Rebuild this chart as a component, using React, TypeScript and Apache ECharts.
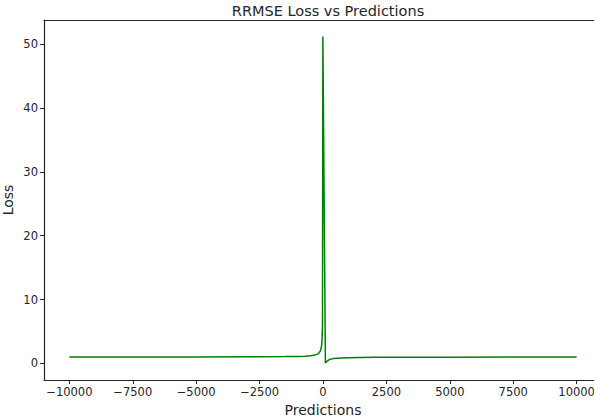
import React, { useEffect, useRef } from 'react'
import * as echarts from 'echarts'

// predictions (x) and loss (y)
const predictions = [
  -10000, -7500, -5000, -2500, -1500, -1000, -700, -500, -300, -200, -150, -100, -60, -40, -20, -5,
  95, 150, 250, 400, 700, 1000, 2000, 5000, 10000
]
const losses = [
  1.01, 1.01, 1.02, 1.04, 1.07, 1.1, 1.14, 1.2, 1.33, 1.5, 1.67, 2.0, 2.67, 3.5, 6.0, 51.2,
  0.05, 0.33, 0.6, 0.75, 0.86, 0.9, 0.95, 0.98, 0.99
]
const xTicks = [-10000, -7500, -5000, -2500, 0, 2500, 5000, 7500, 10000]
const yTicks = [0, 10, 20, 30, 40, 50]

const FONT = '"DejaVu Sans", sans-serif'
const INK = '#262626'

const fmt = (v: number) => (v < 0 ? '\u2212' + Math.abs(v) : String(v))

const App: React.FC = () => {
  const chartRef = useRef<HTMLDivElement>(null)

  useEffect(() => {
    if (!chartRef.current) return
    const chart = echarts.init(chartRef.current, undefined, { renderer: 'svg' })

    const option: echarts.EChartsOption = {
      animation: false,
      backgroundColor: '#fff',
      textStyle: { fontFamily: FONT },
      title: {
        text: 'RRMSE Loss vs Predictions',
        left: 323,
        top: -2,
        textAlign: 'center',
        textStyle: { fontFamily: FONT, fontSize: 14.5, fontWeight: 'normal', color: INK }
      },
      grid: { left: 44, top: 20, width: 558, height: 360, outerBoundsMode: 'none', containLabel: false } as any,
      xAxis: [
        {
          type: 'value',
          min: -11000,
          max: 11000,
          name: 'Predictions',
          nameLocation: 'middle',
          nameGap: 23,
          nameTextStyle: { fontFamily: FONT, fontSize: 14, color: INK },
          splitLine: { show: false },
          axisLine: { show: true, onZero: false, lineStyle: { color: INK, width: 1.2 } },
          axisTick: { show: true, length: 4, customValues: xTicks, lineStyle: { color: INK } },
          axisLabel: {
            customValues: xTicks,
            formatter: (v: number) => fmt(v),
            fontFamily: FONT,
            fontSize: 11.5,
            color: INK,
            margin: 6
          }
        },
        {
          type: 'value',
          position: 'top',
          min: -11000,
          max: 11000,
          splitLine: { show: false },
          axisLine: { show: true, onZero: false, lineStyle: { color: INK, width: 1.2 } },
          axisTick: { show: false },
          axisLabel: { show: false }
        }
      ],
      yAxis: {
        type: 'value',
        min: -2.6,
        max: 53.8,
        name: 'Loss',
        nameLocation: 'middle',
        nameGap: 29,
        nameMoveOverlap: false,
        nameTextStyle: { fontFamily: FONT, fontSize: 14, lineHeight: 14, color: INK },
        splitLine: { show: false },
        axisLine: { show: true, onZero: false, lineStyle: { color: INK, width: 1.2 } },
        axisTick: { show: true, length: 4, customValues: yTicks, lineStyle: { color: INK } },
        axisLabel: {
          customValues: yTicks,
          fontFamily: FONT,
          fontSize: 11.5,
          color: INK,
          margin: 6
        }
      } as any,
      series: [
        {
          type: 'line',
          data: predictions.map((p, i) => [p, losses[i]]),
          showSymbol: false,
          symbol: 'none',
          lineStyle: { color: '#008000', width: 1.5 },
          itemStyle: { color: '#008000' }
        }
      ]
    }

    chart.setOption(option)
    return () => {
      chart.dispose()
    }
  }, [])

  return (
    <div
      ref={chartRef}
      style={{ position: 'fixed', left: 0, top: 0, width: 594, height: 418, background: '#fff' }}
    />
  )
}

export default App
